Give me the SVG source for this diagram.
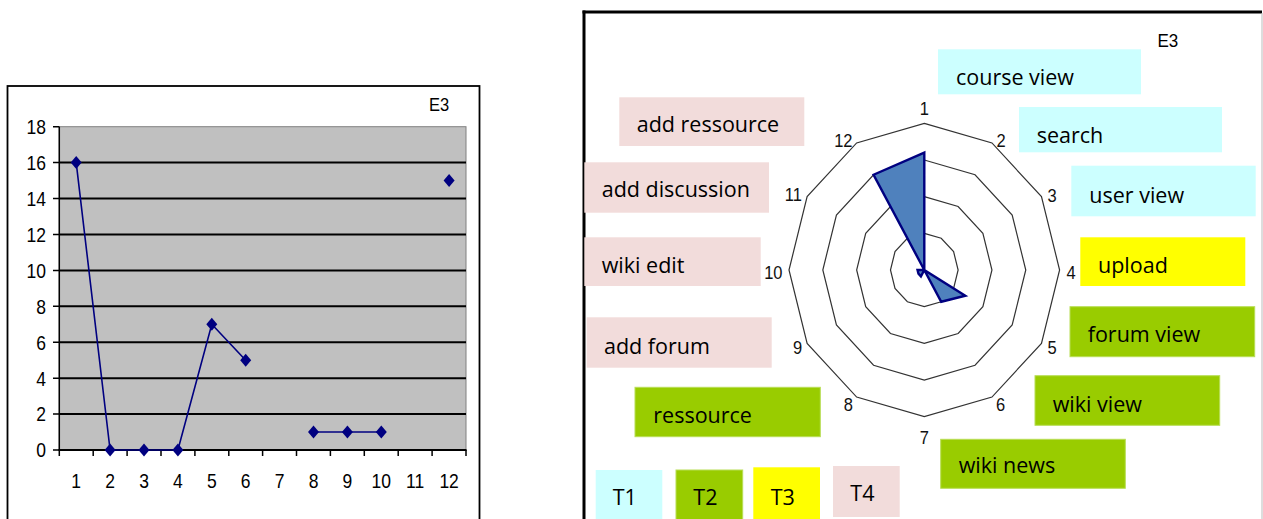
<svg xmlns="http://www.w3.org/2000/svg" width="1263" height="519" viewBox="0 0 1263 519">
<style>
.ax{font-family:"Liberation Sans",Arial,sans-serif;font-size:17.5px;fill:#000}
.rn{font-family:"Liberation Sans",Arial,sans-serif;font-size:16.5px;fill:#111}
.lb{font-family:"Open Sans","Noto Sans",sans-serif;font-size:21.5px;fill:#000}
.grid{stroke:#000;stroke-width:2}
.ring{fill:none;stroke:#333;stroke-width:1.2}
.t1{fill:#CCFFFF}
.t2{fill:#99CC00;stroke:#B8DE55;stroke-width:1}
.t3{fill:#FFFF00}
.t4{fill:#F2DCDB}
</style>
<defs>
<path id="dia" d="M0,-6.5 L5.5,0 L0,6.5 L-5.5,0 Z" fill="#000080"/>
</defs>
<rect width="1263" height="519" fill="#fff"/>

<!-- Left line chart -->
<g id="line-chart">
<rect x="7.5" y="86" width="472" height="440" fill="#fff" stroke="#000" stroke-width="1.8"/>
<rect x="59.3" y="126.7" width="406.7" height="323.3" fill="#C0C0C0" stroke="#808080" stroke-width="1"/>
<g class="grid">
<line x1="59.3" y1="162.6" x2="466" y2="162.6"/>
<line x1="59.3" y1="198.6" x2="466" y2="198.6"/>
<line x1="59.3" y1="234.5" x2="466" y2="234.5"/>
<line x1="59.3" y1="270.4" x2="466" y2="270.4"/>
<line x1="59.3" y1="306.3" x2="466" y2="306.3"/>
<line x1="59.3" y1="342.2" x2="466" y2="342.2"/>
<line x1="59.3" y1="378.2" x2="466" y2="378.2"/>
<line x1="59.3" y1="414.1" x2="466" y2="414.1"/>
</g>
<g stroke="#000" stroke-width="1.5">
<line x1="59.3" y1="126.7" x2="59.3" y2="450"/>
<line x1="58.5" y1="450" x2="466.5" y2="450" stroke-width="2"/>
<path d="M53,126.7H59.3M53,162.6H59.3M53,198.6H59.3M53,234.5H59.3M53,270.4H59.3M53,306.3H59.3M53,342.2H59.3M53,378.2H59.3M53,414.1H59.3M53,450H59.3"/>
<path d="M59.3,450V456M93.2,450V456M127.1,450V456M161,450V456M194.9,450V456M228.8,450V456M262.6,450V456M296.5,450V456M330.4,450V456M364.3,450V456M398.2,450V456M432.1,450V456M466,450V456"/>
</g>
<g class="ax" text-anchor="end">
<text transform="translate(46 134) scale(1 1.13)">18</text>
<text transform="translate(46 170) scale(1 1.13)">16</text>
<text transform="translate(46 206) scale(1 1.13)">14</text>
<text transform="translate(46 241.8) scale(1 1.13)">12</text>
<text transform="translate(46 277.7) scale(1 1.13)">10</text>
<text transform="translate(46 313.6) scale(1 1.13)">8</text>
<text transform="translate(46 349.5) scale(1 1.13)">6</text>
<text transform="translate(46 385.5) scale(1 1.13)">4</text>
<text transform="translate(46 421.4) scale(1 1.13)">2</text>
<text transform="translate(46 457.3) scale(1 1.13)">0</text>
</g>
<g class="ax" text-anchor="middle">
<text transform="translate(76.2 488.3) scale(1 1.13)">1</text>
<text transform="translate(110.1 488.3) scale(1 1.13)">2</text>
<text transform="translate(144 488.3) scale(1 1.13)">3</text>
<text transform="translate(177.9 488.3) scale(1 1.13)">4</text>
<text transform="translate(211.8 488.3) scale(1 1.13)">5</text>
<text transform="translate(245.7 488.3) scale(1 1.13)">6</text>
<text transform="translate(279.6 488.3) scale(1 1.13)">7</text>
<text transform="translate(313.5 488.3) scale(1 1.13)">8</text>
<text transform="translate(347.4 488.3) scale(1 1.13)">9</text>
<text transform="translate(381.3 488.3) scale(1 1.13)">10</text>
<text transform="translate(415.2 488.3) scale(1 1.13)">11</text>
<text transform="translate(449.1 488.3) scale(1 1.13)">12</text>
</g>
<text class="ax" transform="translate(429 110.7) scale(1 1.15)" style="font-size:16.5px">E3</text>
<g fill="none" stroke="#000080" stroke-width="1.6">
<polyline points="76.2,162.6 110.1,450 144,450 177.9,450 211.8,324.3 245.7,360.2"/>
<polyline points="313.5,432 347.4,432 381.3,432"/>
</g>
<use href="#dia" x="76.2" y="162.6"/>
<use href="#dia" x="110.1" y="450"/>
<use href="#dia" x="144" y="450"/>
<use href="#dia" x="177.9" y="450"/>
<use href="#dia" x="211.8" y="324.3"/>
<use href="#dia" x="245.7" y="360.2"/>
<use href="#dia" x="313.5" y="432"/>
<use href="#dia" x="347.4" y="432"/>
<use href="#dia" x="381.3" y="432"/>
<use href="#dia" x="449.1" y="180.6"/>
</g>

<!-- Right panel frame -->
<g id="radar-frame" fill="none">
<line x1="582.5" y1="12" x2="1262" y2="12" stroke="#000" stroke-width="3"/>
<line x1="584" y1="10.5" x2="584" y2="519" stroke="#000" stroke-width="3"/>
<line x1="1262" y1="13" x2="1262" y2="519" stroke="#bbb" stroke-width="1"/>
</g>
<text class="ax" transform="translate(1157.5 47.3) scale(1 1.1)" style="font-size:17px">E3</text>

<!-- Radar -->
<g id="radar" transform="translate(924.3 270) scale(1.353 1.467)">
<polygon class="ring" vector-effect="non-scaling-stroke" points="0,-100 50,-86.6 86.6,-50 100,0 86.6,50 50,86.6 0,100 -50,86.6 -86.6,50 -100,0 -86.6,-50 -50,-86.6"/>
<polygon class="ring" vector-effect="non-scaling-stroke" points="0,-75 37.5,-64.95 64.95,-37.5 75,0 64.95,37.5 37.5,64.95 0,75 -37.5,64.95 -64.95,37.5 -75,0 -64.95,-37.5 -37.5,-64.95"/>
<polygon class="ring" vector-effect="non-scaling-stroke" points="0,-50 25,-43.3 43.3,-25 50,0 43.3,25 25,43.3 0,50 -25,43.3 -43.3,25 -50,0 -43.3,-25 -25,-43.3"/>
<polygon class="ring" vector-effect="non-scaling-stroke" points="0,-25 12.5,-21.65 21.65,-12.5 25,0 21.65,12.5 12.5,21.65 0,25 -12.5,21.65 -21.65,12.5 -25,0 -21.65,-12.5 -12.5,-21.65"/>
<polygon vector-effect="non-scaling-stroke" fill="#4F81BD" stroke="#000080" stroke-width="2.4" stroke-linejoin="miter" points="0,-80 0,0 0,0 0,0 30.31,17.5 12.5,21.65 0,0 -2.5,4.33 -4.33,2.5 -5,0 0,0 -37.5,-64.95"/>
</g>
<g id="radar-axis-labels" class="rn" text-anchor="middle">
<text transform="translate(924.3 115) scale(1 1.15)">1</text>
<text transform="translate(1001 147) scale(1 1.15)">2</text>
<text transform="translate(1052 202) scale(1 1.15)">3</text>
<text transform="translate(1071 278.5) scale(1 1.15)">4</text>
<text transform="translate(1052 354) scale(1 1.15)">5</text>
<text transform="translate(1000.7 411) scale(1 1.15)">6</text>
<text transform="translate(924.3 443.5) scale(1 1.15)">7</text>
<text transform="translate(848.3 410.5) scale(1 1.15)">8</text>
<text transform="translate(797.7 354) scale(1 1.15)">9</text>
<text transform="translate(773.3 278.5) scale(1 1.15)">10</text>
<text transform="translate(793.3 200.5) scale(1 1.15)">11</text>
<text transform="translate(843.3 147) scale(1 1.15)">12</text>
</g>

<!-- Activity labels -->
<g id="course-view"><rect class="t1" x="938" y="49.3" width="203" height="45"/><text class="lb" x="956" y="85">course view</text></g>
<g id="search"><rect class="t1" x="1019" y="107" width="203" height="45.3"/><text class="lb" x="1036.7" y="142.7">search</text></g>
<g id="user-view"><rect class="t1" x="1071.3" y="165.7" width="184.4" height="50.6"/><text class="lb" x="1089.3" y="202.7">user view</text></g>
<g id="upload"><rect class="t3" x="1080.3" y="237.3" width="165" height="48.7"/><text class="lb" x="1098" y="272.7">upload</text></g>
<g id="forum-view"><rect class="t2" x="1070" y="306.7" width="184.7" height="50"/><text class="lb" x="1087.7" y="342.3">forum view</text></g>
<g id="wiki-view"><rect class="t2" x="1035" y="375.7" width="184.7" height="49.6"/><text class="lb" x="1052.7" y="411.7">wiki view</text></g>
<g id="wiki-news"><rect class="t2" x="940.7" y="439.3" width="184.6" height="49"/><text class="lb" x="958.7" y="473.3">wiki news</text></g>
<g id="add-ressource"><rect class="t4" x="619.3" y="97.3" width="185" height="48.7"/><text class="lb" x="636.7" y="131.7">add ressource</text></g>
<g id="add-discussion"><rect class="t4" x="584.3" y="162.3" width="184.7" height="50.4"/><text class="lb" x="601.7" y="197.3">add discussion</text></g>
<g id="wiki-edit"><rect class="t4" x="584.3" y="237.3" width="176.4" height="48.7"/><text class="lb" x="601.7" y="272.7">wiki edit</text></g>
<g id="add-forum"><rect class="t4" x="586.7" y="317.3" width="185" height="50.4"/><text class="lb" x="604" y="354">add forum</text></g>
<g id="ressource"><rect class="t2" x="635" y="387.3" width="185.3" height="49.4"/><text class="lb" x="653.3" y="422.7">ressource</text></g>

<!-- Legend -->
<g id="legend-t1"><rect class="t1" x="595.7" y="470" width="66.6" height="49"/><text class="lb" x="612.7" y="505">T1</text></g>
<g id="legend-t2"><rect class="t2" x="676" y="470" width="66.7" height="50"/><text class="lb" x="693.3" y="505">T2</text></g>
<g id="legend-t3"><rect class="t3" x="753.3" y="467.3" width="66.7" height="52"/><text class="lb" x="770.7" y="505">T3</text></g>
<g id="legend-t4"><rect class="t4" x="833" y="466" width="66.7" height="51"/><text class="lb" x="850.3" y="500.7">T4</text></g>
</svg>
